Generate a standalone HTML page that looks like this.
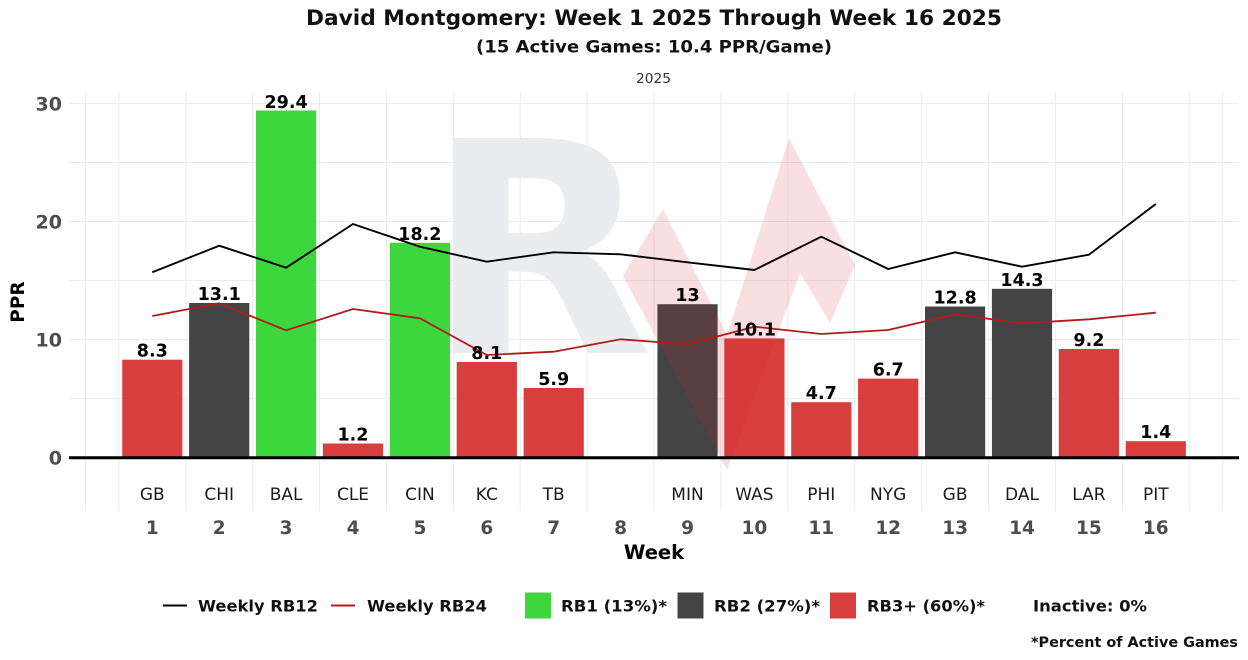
<!DOCTYPE html>
<html>
<head>
<meta charset="utf-8">
<style>
html,body{margin:0;padding:0;background:#fff;}
svg{display:block;font-family:"DejaVu Sans","Liberation Sans",sans-serif;}
</style>
</head>
<body>
<svg width="1248" height="660" viewBox="0 0 1248 660" xmlns="http://www.w3.org/2000/svg">
<rect width="1248" height="660" fill="#fff"/>
<!-- titles -->
<text x="654" y="25" text-anchor="middle" font-size="21" font-weight="bold" fill="#111" textLength="696" lengthAdjust="spacingAndGlyphs">David Montgomery: Week 1 2025 Through Week 16 2025</text>
<text x="654" y="52.5" text-anchor="middle" font-size="16.5" font-weight="bold" fill="#111" textLength="356" lengthAdjust="spacingAndGlyphs">(15 Active Games: 10.4 PPR/Game)</text>
<text x="653.5" y="83" text-anchor="middle" font-size="13" fill="#333" textLength="35" lengthAdjust="spacingAndGlyphs">2025</text>

<!-- gridlines -->
<g stroke="#ebebeb" stroke-width="1">
<line x1="69" x2="1239" y1="103.4" y2="103.4"/>
<line x1="69" x2="1239" y1="162.45" y2="162.45"/>
<line x1="69" x2="1239" y1="221.5" y2="221.5"/>
<line x1="69" x2="1239" y1="280.55" y2="280.55"/>
<line x1="69" x2="1239" y1="339.6" y2="339.6"/>
<line x1="69" x2="1239" y1="398.65" y2="398.65"/>
<line x1="85.4" x2="85.4" y1="92" y2="511"/>
<line x1="118.85" x2="118.85" y1="92" y2="511"/>
<line x1="185.75" x2="185.75" y1="92" y2="511"/>
<line x1="252.65" x2="252.65" y1="92" y2="511"/>
<line x1="319.55" x2="319.55" y1="92" y2="511"/>
<line x1="386.45" x2="386.45" y1="92" y2="511"/>
<line x1="453.35" x2="453.35" y1="92" y2="511"/>
<line x1="520.25" x2="520.25" y1="92" y2="511"/>
<line x1="587.15" x2="587.15" y1="92" y2="511"/>
<line x1="654.05" x2="654.05" y1="92" y2="511"/>
<line x1="720.95" x2="720.95" y1="92" y2="511"/>
<line x1="787.85" x2="787.85" y1="92" y2="511"/>
<line x1="854.75" x2="854.75" y1="92" y2="511"/>
<line x1="921.65" x2="921.65" y1="92" y2="511"/>
<line x1="988.55" x2="988.55" y1="92" y2="511"/>
<line x1="1055.45" x2="1055.45" y1="92" y2="511"/>
<line x1="1122.35" x2="1122.35" y1="92" y2="511"/>
<line x1="1189.25" x2="1189.25" y1="92" y2="511"/>
<line x1="1222.7" x2="1222.7" y1="92" y2="511"/>
</g>

<!-- watermark R -->
<text x="426" y="353" font-size="295" font-weight="bold" fill="#eaecef">R</text>

<!-- bars -->
<g>
<rect x="122.2" y="359.7" width="60.2" height="98" fill="#d83e3e"/>
<rect x="189.1" y="303.0" width="60.2" height="154.7" fill="#444444"/>
<rect x="256.0" y="110.5" width="60.2" height="347.2" fill="#3dd63d"/>
<rect x="322.9" y="443.5" width="60.2" height="14.2" fill="#d83e3e"/>
<rect x="389.8" y="242.8" width="60.2" height="214.9" fill="#3dd63d"/>
<rect x="456.7" y="362.0" width="60.2" height="95.7" fill="#d83e3e"/>
<rect x="523.6" y="388.0" width="60.2" height="69.7" fill="#d83e3e"/>
<rect x="657.4" y="304.2" width="60.2" height="153.5" fill="#444444"/>
<rect x="724.3" y="338.4" width="60.2" height="119.3" fill="#d83e3e"/>
<rect x="791.2" y="402.2" width="60.2" height="55.5" fill="#d83e3e"/>
<rect x="858.1" y="378.6" width="60.2" height="79.1" fill="#d83e3e"/>
<rect x="925.0" y="306.5" width="60.2" height="151.2" fill="#444444"/>
<rect x="991.9" y="288.8" width="60.2" height="168.9" fill="#444444"/>
<rect x="1058.8" y="349.0" width="60.2" height="108.7" fill="#d83e3e"/>
<rect x="1125.7" y="441.2" width="60.2" height="16.5" fill="#d83e3e"/>
</g>

<!-- red watermark shape -->
<polygon points="623,276 663,209 727,335 789,138 855,265 830,323 800,273 727,470" fill="rgb(215,40,40)" fill-opacity="0.15"/>

<!-- axis line -->
<line x1="69" x2="1239" y1="457.7" y2="457.7" stroke="#000" stroke-width="3"/>

<!-- lines -->
<polyline fill="none" stroke="#b01c1c" stroke-width="1.8" stroke-linejoin="round" points="152.3,316 219.2,303.3 286.1,330.3 353,309 419.9,318.3 486.8,355 553.7,351.7 620.6,339.3 687.5,344.3 754.4,326.7 821.3,334 888.2,330 955.1,314.3 1022,323.3 1088.9,319.3 1155.8,312.7"/>
<polyline fill="none" stroke="#000" stroke-width="1.9" stroke-linejoin="round" points="152.3,272.3 219.2,245.7 286.1,267.7 353,224 419.9,246.7 486.8,261.7 553.7,252.3 620.6,254.3 687.5,262.3 754.4,270 821.3,236.7 888.2,269 955.1,252.3 1022,266.7 1088.9,254.7 1155.8,204"/>

<!-- bar labels -->
<g font-size="17.5" font-weight="bold" fill="#000" text-anchor="middle">
<text x="152.3" y="356.7">8.3</text>
<text x="219.2" y="300">13.1</text>
<text x="286.1" y="107.8">29.4</text>
<text x="353" y="440.5">1.2</text>
<text x="419.9" y="239.8">18.2</text>
<text x="486.8" y="359">8.1</text>
<text x="553.7" y="385">5.9</text>
<text x="687.5" y="301.2">13</text>
<text x="754.4" y="335.4">10.1</text>
<text x="821.3" y="399.2">4.7</text>
<text x="888.2" y="375.6">6.7</text>
<text x="955.1" y="303.5">12.8</text>
<text x="1022" y="285.8">14.3</text>
<text x="1088.9" y="346">9.2</text>
<text x="1155.8" y="438.2">1.4</text>
</g>

<!-- y tick labels -->
<g font-size="19" font-weight="bold" fill="#4d4d4d" text-anchor="end">
<text x="62" y="110.5">30</text>
<text x="62" y="228.5">20</text>
<text x="62" y="346.6">10</text>
<text x="62" y="464.7">0</text>
</g>
<text transform="translate(24,302) rotate(-90)" text-anchor="middle" font-size="18.5" font-weight="bold" fill="#000">PPR</text>

<!-- team labels -->
<g font-size="17" fill="#1a1a1a" text-anchor="middle">
<text x="152.3" y="500">GB</text>
<text x="219.2" y="500">CHI</text>
<text x="286.1" y="500">BAL</text>
<text x="353" y="500">CLE</text>
<text x="419.9" y="500">CIN</text>
<text x="486.8" y="500">KC</text>
<text x="553.7" y="500">TB</text>
<text x="687.5" y="500">MIN</text>
<text x="754.4" y="500">WAS</text>
<text x="821.3" y="500">PHI</text>
<text x="888.2" y="500">NYG</text>
<text x="955.1" y="500">GB</text>
<text x="1022" y="500">DAL</text>
<text x="1088.9" y="500">LAR</text>
<text x="1155.8" y="500">PIT</text>
</g>

<!-- week numbers -->
<g font-size="18.5" font-weight="bold" fill="#4d4d4d" text-anchor="middle">
<text x="152.3" y="534">1</text>
<text x="219.2" y="534">2</text>
<text x="286.1" y="534">3</text>
<text x="353" y="534">4</text>
<text x="419.9" y="534">5</text>
<text x="486.8" y="534">6</text>
<text x="553.7" y="534">7</text>
<text x="620.6" y="534">8</text>
<text x="687.5" y="534">9</text>
<text x="754.4" y="534">10</text>
<text x="821.3" y="534">11</text>
<text x="888.2" y="534">12</text>
<text x="955.1" y="534">13</text>
<text x="1022" y="534">14</text>
<text x="1088.9" y="534">15</text>
<text x="1155.8" y="534">16</text>
</g>
<text x="654" y="559" text-anchor="middle" font-size="19.5" font-weight="bold" fill="#000">Week</text>

<!-- legend -->
<line x1="163" x2="187" y1="605.5" y2="605.5" stroke="#000" stroke-width="2"/>
<text x="198" y="611.5" font-size="16" font-weight="bold" fill="#111" textLength="120" lengthAdjust="spacingAndGlyphs">Weekly RB12</text>
<line x1="331" x2="355" y1="605.5" y2="605.5" stroke="#b01c1c" stroke-width="2"/>
<text x="367" y="611.5" font-size="16" font-weight="bold" fill="#111" textLength="120" lengthAdjust="spacingAndGlyphs">Weekly RB24</text>
<rect x="525" y="592.5" width="26" height="26" fill="#3dd63d"/>
<text x="561" y="611.5" font-size="16" font-weight="bold" fill="#111" textLength="106" lengthAdjust="spacingAndGlyphs">RB1 (13%)*</text>
<rect x="677.5" y="592.5" width="26" height="26" fill="#444444"/>
<text x="714" y="611.5" font-size="16" font-weight="bold" fill="#111" textLength="106" lengthAdjust="spacingAndGlyphs">RB2 (27%)*</text>
<rect x="830" y="592.5" width="26" height="26" fill="#d83e3e"/>
<text x="867" y="611.5" font-size="16" font-weight="bold" fill="#111" textLength="118" lengthAdjust="spacingAndGlyphs">RB3+ (60%)*</text>
<text x="1033" y="611.5" font-size="16" font-weight="bold" fill="#111" textLength="114" lengthAdjust="spacingAndGlyphs">Inactive: 0%</text>
<text x="1031" y="647" font-size="14" font-weight="bold" fill="#111" textLength="207" lengthAdjust="spacingAndGlyphs">*Percent of Active Games</text>
</svg>
</body>
</html>
